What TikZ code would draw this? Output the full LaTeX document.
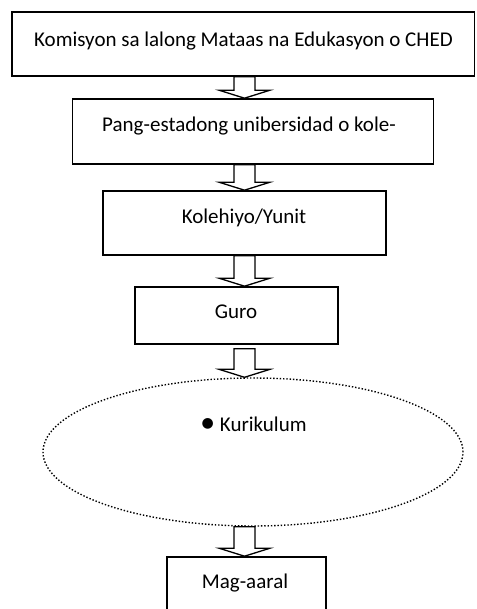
\documentclass[tikz,border=0pt]{standalone}
\usepackage{fontspec}
\setmainfont{Carlito}
\newfontfamily\symfont{DejaVu Sans}
\usetikzlibrary{calc,shapes.geometric}
\tikzset{
  box/.style={draw, line width=1.6pt, inner sep=0pt, rectangle},
  oval/.style={draw, ellipse, inner sep=0pt, line width=1.4pt, dash pattern=on 1.4pt off 1.9pt},
  txt/.style={anchor=base, inner sep=0pt, font=\fontsize{21}{24}\selectfont},
  arr/.style={draw, line width=1.3pt, fill=white, line join=miter},
}
\newcommand\blockarr[3][0pt]{%
  \draw[arr] let \p1=(#2.south), \p2=(#3.north) in
    (234pt,\y1-#1) -- (234pt,\y2+8pt) -- (219pt,\y2+8pt) -- (244.5pt,\y2)
    -- (270pt,\y2+8pt) -- (255pt,\y2+8pt) -- (255pt,\y1-#1) -- cycle;}
\begin{document}
\begin{tikzpicture}[x=1pt,y=-1pt]
\useasboundingbox (0,0) rectangle (476,609);
\node[box, minimum width=462.5pt, minimum height=64pt] (b1) at (243.25,44) {};
\node[box, minimum width=361pt, minimum height=65pt] (b2) at (253,131.5) {};
\node[box, minimum width=283pt, minimum height=64pt] (b3) at (244.5,223) {};
\node[box, minimum width=203pt, minimum height=57pt] (b4) at (236.5,315.5) {};
\node[oval, minimum width=420pt, minimum height=148pt] (el) at (253,452) {};
\node[box, minimum width=159pt, minimum height=63pt] (b5) at (246.5,588.5) {};

\node[txt] (t1) at (243.5,47) {Komisyon sa lalong Mataas na Edukasyon o CHED};
\node[txt] (t2) at (249,132) {Pang-estadong unibersidad o kole-};
\node[txt] (t3) at (244,224) {Kolehiyo/Yunit};
\node[txt] (t4) at (236,318) {Guro};
\node[txt, anchor=base west] (t5) at (201.5,431) {\raisebox{4pt}{\symfont\fontsize{14}{16}\selectfont ●}\hspace{6pt}Kurikulum};
\node[txt] (t6) at (245,588) {Mag-aaral};

\blockarr{b1}{b2}
\blockarr{b2}{b3}
\blockarr{b3}{b4}
\blockarr[4pt]{b4}{el}
\blockarr{el}{b5}
\end{tikzpicture}
\end{document}
